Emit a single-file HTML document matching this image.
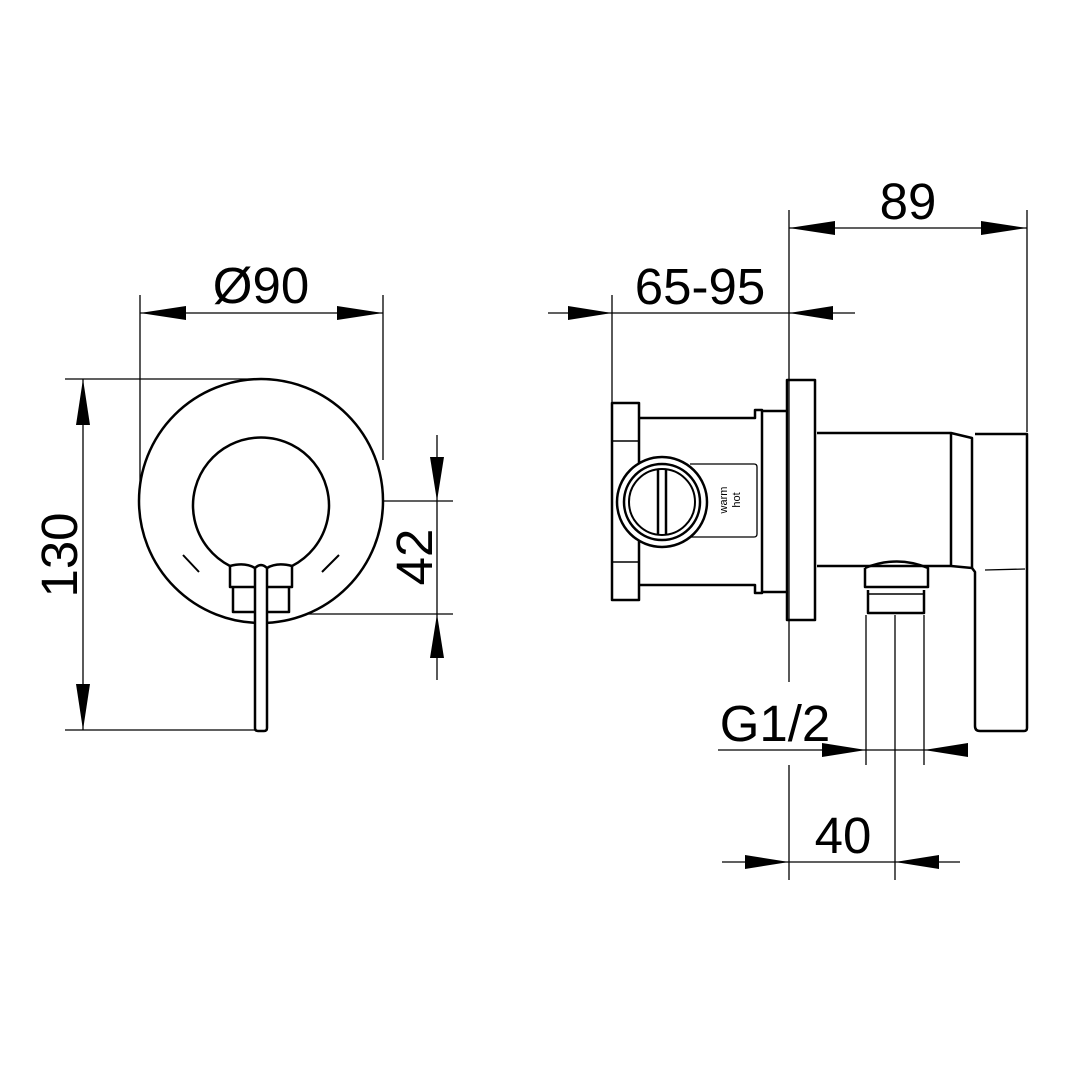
<!DOCTYPE html>
<html><head><style>body{margin:0;background:#fff}svg{display:block}text{font-family:"Liberation Sans",sans-serif;fill:#000}</style></head><body>
<svg width="1080" height="1080" viewBox="0 0 1080 1080" xmlns="http://www.w3.org/2000/svg">
<g fill="none" stroke="#000" stroke-width="1.3">
<line x1="140" y1="295" x2="140" y2="500"/><line x1="383" y1="295" x2="383" y2="460"/>
<line x1="140" y1="313" x2="383" y2="313"/>
<line x1="65" y1="379" x2="255" y2="379"/><line x1="65" y1="730" x2="262" y2="730"/>
<line x1="83" y1="379" x2="83" y2="730"/>
<line x1="261" y1="501" x2="453" y2="501"/><line x1="290" y1="614" x2="453" y2="614"/>
<line x1="437" y1="435" x2="437" y2="680"/>
<line x1="789" y1="210" x2="789" y2="682"/><line x1="789" y1="765" x2="789" y2="880"/>
<line x1="1027" y1="210" x2="1027" y2="432"/><line x1="789" y1="228" x2="1027" y2="228"/>
<line x1="612" y1="295" x2="612" y2="402"/><line x1="548" y1="313" x2="855" y2="313"/>
<line x1="866" y1="615" x2="866" y2="765"/><line x1="924" y1="615" x2="924" y2="765"/>
<line x1="895" y1="615" x2="895" y2="880"/>
<line x1="718" y1="750" x2="968" y2="750"/><line x1="722" y1="862" x2="960" y2="862"/>
</g>
<g fill="#000">
<polygon points="140,313 186,306 186,320"/><polygon points="383,313 337,306 337,320"/>
<polygon points="83,379 76,425 90,425"/><polygon points="83,730 76,684 90,684"/>
<polygon points="437,501 430,457 444,457"/><polygon points="437,614 430,658 444,658"/>
<polygon points="789,228 835,221 835,235"/><polygon points="1027,228 981,221 981,235"/>
<polygon points="612,313 568,306 568,320"/><polygon points="789,313 833,306 833,320"/>
<polygon points="866,750 822,743 822,757"/><polygon points="924,750 968,743 968,757"/>
<polygon points="789,862 745,855 745,869"/><polygon points="895,862 939,855 939,869"/>
</g>
<g fill="none" stroke="#000" stroke-width="2.5" stroke-linejoin="round">
<circle cx="261" cy="501" r="122" fill="#fff"/>
<path d="M230,566 A68,68 0 1 1 292,566" />
<path d="M230,566 L230,587 L292,587 L292,566"/>
<path d="M233,587 L233,612 L289,612 L289,587"/>
<path d="M255,568 L255,728 Q255,731 258,731 L264,731 Q267,731 267,728 L267,568 Q261,562 255,568" fill="#fff"/>
<path d="M230,566 Q245,562 255,568 M267,568 Q277,562 292,566"/>
<line x1="183" y1="555" x2="199" y2="572" stroke-width="2"/><line x1="322" y1="572" x2="339" y2="555" stroke-width="2"/>
<path d="M612,403 L639,403 L639,600 L612,600 Z"/>
<line x1="612" y1="441" x2="639" y2="441" stroke-width="1.5"/><line x1="612" y1="562" x2="639" y2="562" stroke-width="1.5"/>
<path d="M639,418 L755,418 L755,410 L762,410 L762,593 L755,593 L755,585 L639,585"/>
<path d="M762,411 L787,411 M762,592 L787,592"/>
<path d="M787,380 L815,380 L815,620 L787,620 Z"/>
<path d="M690,464 L754,464 Q757,464 757,467 L757,534 Q757,537 754,537 L690,537" stroke-width="1.3"/>
<circle cx="662" cy="502" r="45" fill="#fff"/>
<circle cx="662" cy="502" r="38"/><circle cx="662" cy="502" r="33" stroke-width="2"/>
<line x1="658" y1="470" x2="658" y2="534"/><line x1="666" y1="470" x2="666" y2="534"/>
<path d="M817,433 L951,433 L972,438 L972,568 L951,566 L817,566"/>
<line x1="951" y1="433" x2="951" y2="566"/>
<path d="M975,434 L1027,434 L1027,728 Q1027,731 1024,731 L980,731 Q975,731 975,726 L975,572 L972,568"/>
<line x1="985" y1="570" x2="1025" y2="569" stroke-width="1.3"/>
<path d="M865,568 L865,587 L928,587 L928,568 Q897,555 865,568"/>
<path d="M868,590 L868,613 L924,613 L924,590"/><line x1="868" y1="594" x2="924" y2="594" stroke-width="1.5"/>
</g>
<g font-size="51">
<text x="261" y="303" text-anchor="middle">Ø90</text>
<text transform="translate(77,555) rotate(-90)" text-anchor="middle">130</text>
<text transform="translate(432,557) rotate(-90)" text-anchor="middle">42</text>
<text x="908" y="219" text-anchor="middle">89</text>
<text x="700" y="304" text-anchor="middle">65-95</text>
<text x="775" y="741" text-anchor="middle">G1/2</text>
<text x="843" y="853" text-anchor="middle">40</text>
</g>
<g font-size="11">
<text transform="translate(727,500) rotate(-90)" text-anchor="middle">warm</text>
<text transform="translate(740,500) rotate(-90)" text-anchor="middle">hot</text>
</g>
</svg>
</body></html>
